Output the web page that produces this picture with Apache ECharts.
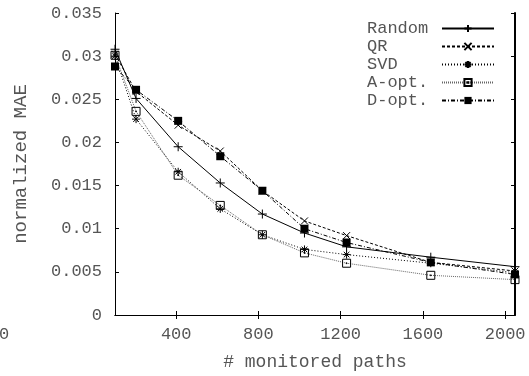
<!DOCTYPE html>
<html><head><meta charset="utf-8">
<script src="https://cdn.jsdelivr.net/npm/echarts@6/dist/echarts.min.js"></script>
<style>html,body{margin:0;padding:0;background:#fff}#c{width:529px;height:376px}</style>
</head><body><div id="c"></div>
<script>
var paths = [102.4, 204.8, 409.6, 614.4, 819.2, 1024, 1228.8, 1638.4, 2048];
var randomMAE = [0.0308, 0.0251, 0.0195, 0.0153, 0.0117, 0.0095, 0.0079, 0.0067, 0.0056];
var qrMAE     = [0.0302, 0.0259, 0.0220, 0.0190, 0.0144, 0.0109, 0.0092, 0.0061, 0.0051];
var svdMAE    = [0.0300, 0.0227, 0.0166, 0.0123, 0.0093, 0.0076, 0.0070, 0.0060, 0.0049];
var aoptMAE   = [0.0301, 0.0236, 0.0162, 0.0127, 0.0093, 0.0072, 0.0060, 0.0046, 0.0041];
var doptMAE   = [0.0288, 0.0261, 0.0225, 0.0184, 0.0144, 0.0100, 0.0084, 0.0061, 0.0047];
var seriesNames = ['Random', 'QR', 'SVD', 'A-opt.', 'D-opt.'];
var xTicks = [400, 800, 1200, 1600, 2000];

var font = 'Liberation Mono';
var txt = '#555';
function pairs(v){ return paths.map(function(x,i){ return [x, v[i]]; }); }
var hollow = {color:'rgba(0,0,0,0)', borderColor:'#000', borderWidth:1};

var chart = echarts.init(document.getElementById('c'));
chart.setOption({
  animation:false,
  backgroundColor:'#fff',
  grid:{left:115, right:14, top:13, bottom:58},
  xAxis:[{
    type:'value', min:102.4, max:2048,
    name:'# monitored paths', nameLocation:'middle', nameGap:38,
    nameTextStyle:{fontFamily:font, fontSize:18, color:txt},
    axisLine:{show:true, lineStyle:{color:'#000', width:1}},
    axisTick:{show:true, inside:true, length:4, customValues:xTicks, lineStyle:{color:'#000'}},
    axisLabel:{show:true, customValues:xTicks, margin:11, fontFamily:font, fontSize:17, color:txt,
      formatter:function(v){ return String(Math.round(v)); }},
    splitLine:{show:false}
  },{
    type:'value', position:'top', min:102.4, max:2048,
    axisLine:{show:true, lineStyle:{color:'#000', width:1}},
    axisTick:{show:true, inside:true, length:4, customValues:xTicks, lineStyle:{color:'#000'}},
    axisLabel:{show:false}, splitLine:{show:false}
  }],
  yAxis:[{
    type:'value', min:0, max:0.035, interval:0.005,
    name:'normalized MAE', nameLocation:'middle', nameGap:85, nameRotate:90,
    nameTextStyle:{fontFamily:font, fontSize:19, color:txt},
    axisLine:{show:true, lineStyle:{color:'#000', width:1}},
    axisTick:{show:true, inside:true, length:4, lineStyle:{color:'#000'}},
    axisLabel:{margin:13, fontFamily:font, fontSize:17, color:txt,
      formatter:function(v){ return v===0 ? '0' : String(+v.toFixed(3)); }},
    splitLine:{show:false}
  },{
    type:'value', position:'right', min:0, max:0.035, interval:0.005,
    axisLine:{show:true, lineStyle:{color:'#000', width:2}},
    axisTick:{show:true, inside:true, length:4, lineStyle:{color:'#000'}},
    axisLabel:{show:false}, splitLine:{show:false}
  }],
  legend:{
    orient:'vertical', left:367, top:20, align:'right', padding:0,
    itemWidth:52, itemHeight:9, itemGap:1,
    formatter:function(n){ return '{a|' + n + '}'; },
    textStyle:{fontFamily:font, fontSize:17, lineHeight:17, color:txt,
      rich:{a:{fontFamily:font, fontSize:17, lineHeight:17, color:txt, width:70, align:'left'}}},
    data:seriesNames
  },
  graphic:[{type:'text', left:-1, top:326, style:{text:'0', font:'17px "Liberation Mono"', fill:txt}}],
  series:[
    {name:seriesNames[0], type:'line', data:pairs(randomMAE),
     symbol:'path://M0,5L10,5M5,0L5,10', symbolSize:9,
     lineStyle:{color:'#000', width:1, type:'solid'}, itemStyle:hollow},
    {name:seriesNames[1], type:'line', data:pairs(qrMAE),
     symbol:'path://M0,0L10,10M10,0L0,10', symbolSize:7,
     lineStyle:{color:'#000', width:1, type:[3,2]}, itemStyle:hollow},
    {name:seriesNames[2], type:'line', data:pairs(svdMAE),
     symbol:'path://M0,5L10,5M5,0L5,10M1.5,1.5L8.5,8.5M8.5,1.5L1.5,8.5', symbolSize:8,
     lineStyle:{color:'#000', width:1, type:[1,2]}, itemStyle:hollow},
    {name:seriesNames[3], type:'line', data:pairs(aoptMAE),
     symbol:'path://M0,0L10,0L10,10L0,10ZM4.5,4.5L5.5,4.5L5.5,5.5L4.5,5.5Z', symbolSize:8,
     lineStyle:{color:'#666', width:1, type:[1,1]}, itemStyle:{color:'rgba(255,255,255,0)', borderColor:'#000', borderWidth:1}},
    {name:seriesNames[4], type:'line', data:pairs(doptMAE),
     symbol:'rect', symbolSize:8,
     lineStyle:{color:'#000', width:1, type:[4,2,1,2]}, itemStyle:{color:'#000'}}
  ]
});
</script>
</body></html>
